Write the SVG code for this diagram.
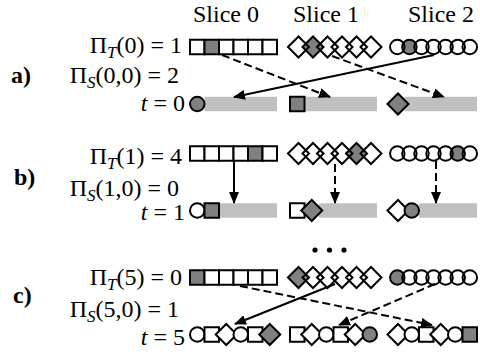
<svg xmlns="http://www.w3.org/2000/svg" width="480" height="356" viewBox="0 0 480 356" font-family="'Liberation Serif', 'Times New Roman', serif" font-size="24">
<style>
.dummy{fill:none}
text{font-family:"Liberation Serif","Times New Roman",serif;font-size:24px;fill:#000}
.hd{font-size:24px}
.b{font-weight:bold}
.sub{font-style:italic;font-size:17px}
.it{font-style:italic}
.o{stroke:#000;stroke-width:2;fill:none}
.w{stroke:#000;stroke-width:2;fill:#fff}
.gf{fill:#808080;stroke:none}
.g{stroke:#000;stroke-width:2;fill:#808080}
.bar{fill:#c0c0c0;stroke:none}
.ln{stroke:#000;stroke-width:2;fill:none}
.dash{stroke-dasharray:8 4}
</style>
<defs>
<marker id="ah" markerUnits="userSpaceOnUse" markerWidth="12" markerHeight="10" refX="11" refY="5" orient="auto" viewBox="0 0 12 10">
<path d="M0,0 L12,5 L0,10 z" fill="#000"/>
</marker>
</defs>
<rect width="480" height="356" fill="#fff"/>

<g id="headers">
<text class="hd" x="193" y="22">Slice 0</text>
<text class="hd" x="293" y="22">Slice 1</text>
<text class="hd" x="408" y="22">Slice 2</text>
</g>

<g id="labels-a">
<text class="b" x="11" y="83">a)</text>
<text x="182" y="53" text-anchor="end">Π<tspan class="sub" dy="5">T</tspan><tspan dy="-5">(0) = 1</tspan></text>
<text x="179" y="83" text-anchor="end">Π<tspan class="sub" dy="5">S</tspan><tspan dy="-5">(0,0) = 2</tspan></text>
<text x="185" y="111" text-anchor="end"><tspan class="it">t</tspan> = 0</text>
</g>
<g id="labels-b">
<text class="b" x="14" y="185">b)</text>
<text x="182" y="164" text-anchor="end">Π<tspan class="sub" dy="5">T</tspan><tspan dy="-5">(1) = 4</tspan></text>
<text x="179" y="196" text-anchor="end">Π<tspan class="sub" dy="5">S</tspan><tspan dy="-5">(1,0) = 0</tspan></text>
<text x="185" y="220" text-anchor="end"><tspan class="it">t</tspan> = 1</text>
</g>
<g id="labels-c">
<text class="b" x="13" y="303">c)</text>
<text x="182" y="285" text-anchor="end">Π<tspan class="sub" dy="5">T</tspan><tspan dy="-5">(5) = 0</tspan></text>
<text x="179" y="317" text-anchor="end">Π<tspan class="sub" dy="5">S</tspan><tspan dy="-5">(5,0) = 1</tspan></text>
<text x="185" y="345" text-anchor="end"><tspan class="it">t</tspan> = 5</text>
</g>

<!-- Row a top -->
<g id="a-s0-queue">
<rect class="w" x="190" y="39.75" width="14.5" height="14.5"/>
<rect class="g" x="204.5" y="39.75" width="14.5" height="14.5"/>
<rect class="w" x="219" y="39.75" width="14.5" height="14.5"/>
<rect class="w" x="233.5" y="39.75" width="14.5" height="14.5"/>
<rect class="w" x="248" y="39.75" width="14.5" height="14.5"/>
<rect class="w" x="262.5" y="39.75" width="14.5" height="14.5"/>
</g>
<g id="a-s1-queue">
<polygon class="gf" points="302.5,47 313,36.5 323.5,47 313,57.5"/>
<polygon class="o" points="288,47 298.5,36.5 309,47 298.5,57.5"/>
<polygon class="o" points="302.5,47 313,36.5 323.5,47 313,57.5"/>
<polygon class="o" points="317,47 327.5,36.5 338,47 327.5,57.5"/>
<polygon class="o" points="331.5,47 342,36.5 352.5,47 342,57.5"/>
<polygon class="o" points="346,47 356.5,36.5 367,47 356.5,57.5"/>
<polygon class="o" points="360.5,47 371,36.5 381.5,47 371,57.5"/>
</g>
<g id="a-s2-queue">
<circle class="gf" cx="409.4" cy="47" r="7.25"/>
<circle class="o" cx="397.3" cy="47" r="7.25"/>
<circle class="o" cx="409.4" cy="47" r="7.25"/>
<circle class="o" cx="421.5" cy="47" r="7.25"/>
<circle class="o" cx="433.5" cy="47" r="7.25"/>
<circle class="o" cx="445.6" cy="47" r="7.25"/>
<circle class="o" cx="457.7" cy="47" r="7.25"/>
<circle class="o" cx="469.8" cy="47" r="7.25"/>
</g>
<!-- Row a bottom -->
<g id="a-s0-out">
<rect class="bar" x="204.5" y="96.75" width="72.5" height="14.5"/>
<circle class="g" cx="197.25" cy="104" r="7.25"/>
</g>
<g id="a-s1-out">
<rect class="bar" x="304.5" y="96.75" width="72.5" height="14.5"/>
<rect class="g" x="290" y="96.75" width="14.5" height="14.5"/>
</g>
<g id="a-s2-out">
<rect class="bar" x="404.5" y="96.75" width="72.5" height="14.5"/>
<polygon class="g" points="387.5,104 398,93.5 408.5,104 398,114.5"/>
</g>

<!-- Row b top -->
<g id="b-s0-queue">
<rect class="w" x="190" y="146.25" width="14.5" height="14.5"/>
<rect class="w" x="204.5" y="146.25" width="14.5" height="14.5"/>
<rect class="w" x="219" y="146.25" width="14.5" height="14.5"/>
<rect class="w" x="233.5" y="146.25" width="14.5" height="14.5"/>
<rect class="g" x="248" y="146.25" width="14.5" height="14.5"/>
<rect class="w" x="262.5" y="146.25" width="14.5" height="14.5"/>
</g>
<g id="b-s1-queue">
<polygon class="gf" points="346,153.5 356.5,143 367,153.5 356.5,164"/>
<polygon class="o" points="288,153.5 298.5,143 309,153.5 298.5,164"/>
<polygon class="o" points="302.5,153.5 313,143 323.5,153.5 313,164"/>
<polygon class="o" points="317,153.5 327.5,143 338,153.5 327.5,164"/>
<polygon class="o" points="331.5,153.5 342,143 352.5,153.5 342,164"/>
<polygon class="o" points="346,153.5 356.5,143 367,153.5 356.5,164"/>
<polygon class="o" points="360.5,153.5 371,143 381.5,153.5 371,164"/>
</g>
<g id="b-s2-queue">
<circle class="gf" cx="457.7" cy="153.5" r="7.25"/>
<circle class="o" cx="397.3" cy="153.5" r="7.25"/>
<circle class="o" cx="409.4" cy="153.5" r="7.25"/>
<circle class="o" cx="421.5" cy="153.5" r="7.25"/>
<circle class="o" cx="433.5" cy="153.5" r="7.25"/>
<circle class="o" cx="445.6" cy="153.5" r="7.25"/>
<circle class="o" cx="457.7" cy="153.5" r="7.25"/>
<circle class="o" cx="469.8" cy="153.5" r="7.25"/>
</g>
<!-- Row b bottom -->
<g id="b-s0-out">
<rect class="bar" x="219" y="203.25" width="58" height="14.5"/>
<circle class="w" cx="197.25" cy="210.5" r="7.25"/>
<rect class="g" x="204.5" y="203.25" width="14.5" height="14.5"/>
</g>
<g id="b-s1-out">
<rect class="bar" x="319" y="203.25" width="58" height="14.5"/>
<rect class="w" x="290" y="203.25" width="14.5" height="14.5"/>
<polygon class="g" points="301.25,210.5 311.75,200 322.25,210.5 311.75,221"/>
</g>
<g id="b-s2-out">
<rect class="bar" x="419" y="203.25" width="58" height="14.5"/>
<polygon class="w" points="387.5,210.5 398,200 408.5,210.5 398,221"/>
<circle class="g" cx="411.75" cy="210.5" r="7.25"/>
</g>

<g id="ellipsis">
<circle cx="315" cy="250" r="2.6" fill="#000"/>
<circle cx="329.5" cy="250" r="2.6" fill="#000"/>
<circle cx="344" cy="250" r="2.6" fill="#000"/>
</g>

<!-- Row c top -->
<g id="c-s0-queue">
<rect class="g" x="190" y="270.25" width="14.5" height="14.5"/>
<rect class="w" x="204.5" y="270.25" width="14.5" height="14.5"/>
<rect class="w" x="219" y="270.25" width="14.5" height="14.5"/>
<rect class="w" x="233.5" y="270.25" width="14.5" height="14.5"/>
<rect class="w" x="248" y="270.25" width="14.5" height="14.5"/>
<rect class="w" x="262.5" y="270.25" width="14.5" height="14.5"/>
</g>
<g id="c-s1-queue">
<polygon class="gf" points="288,277.5 298.5,267 309,277.5 298.5,288"/>
<polygon class="o" points="288,277.5 298.5,267 309,277.5 298.5,288"/>
<polygon class="o" points="302.5,277.5 313,267 323.5,277.5 313,288"/>
<polygon class="o" points="317,277.5 327.5,267 338,277.5 327.5,288"/>
<polygon class="o" points="331.5,277.5 342,267 352.5,277.5 342,288"/>
<polygon class="o" points="346,277.5 356.5,267 367,277.5 356.5,288"/>
<polygon class="o" points="360.5,277.5 371,267 381.5,277.5 371,288"/>
</g>
<g id="c-s2-queue">
<circle class="gf" cx="397.3" cy="277.5" r="7.25"/>
<circle class="o" cx="397.3" cy="277.5" r="7.25"/>
<circle class="o" cx="409.4" cy="277.5" r="7.25"/>
<circle class="o" cx="421.5" cy="277.5" r="7.25"/>
<circle class="o" cx="433.5" cy="277.5" r="7.25"/>
<circle class="o" cx="445.6" cy="277.5" r="7.25"/>
<circle class="o" cx="457.7" cy="277.5" r="7.25"/>
<circle class="o" cx="469.8" cy="277.5" r="7.25"/>
</g>
<!-- Row c bottom -->
<g id="c-s0-out">
<circle class="w" cx="197.25" cy="334.5" r="7.25"/>
<rect class="w" x="204.5" y="327.25" width="14.5" height="14.5"/>
<polygon class="w" points="215.75,334.5 226.25,324 236.75,334.5 226.25,345"/>
<circle class="w" cx="240.75" cy="334.5" r="7.25"/>
<rect class="w" x="248" y="327.25" width="14.5" height="14.5"/>
<polygon class="g" points="259.25,334.5 269.75,324 280.25,334.5 269.75,345"/>
</g>
<g id="c-s1-out">
<rect class="w" x="290" y="327.25" width="14.5" height="14.5"/>
<polygon class="w" points="301.25,334.5 311.75,324 322.25,334.5 311.75,345"/>
<circle class="w" cx="326.25" cy="334.5" r="7.25"/>
<rect class="w" x="333.5" y="327.25" width="14.5" height="14.5"/>
<polygon class="w" points="344.75,334.5 355.25,324 365.75,334.5 355.25,345"/>
<circle class="g" cx="369.75" cy="334.5" r="7.25"/>
</g>
<g id="c-s2-out">
<polygon class="w" points="387.5,334.5 398,324 408.5,334.5 398,345"/>
<circle class="w" cx="411.75" cy="334.5" r="7.25"/>
<rect class="w" x="419" y="327.25" width="14.5" height="14.5"/>
<polygon class="w" points="430.25,334.5 440.75,324 451.25,334.5 440.75,345"/>
<circle class="w" cx="455.25" cy="334.5" r="7.25"/>
<rect class="g" x="462.5" y="327.25" width="14.5" height="14.5"/>
</g>

<g id="connectors">
<line class="ln dash" x1="222" y1="55" x2="330" y2="97" marker-end="url(#ah)"/>
<line class="ln dash" x1="332" y1="56" x2="444" y2="97" marker-end="url(#ah)"/>
<line class="ln" x1="434" y1="55" x2="234" y2="97" marker-end="url(#ah)"/>
<line class="ln" x1="234" y1="161" x2="234" y2="203" marker-end="url(#ah)"/>
<line class="ln dash" x1="335" y1="164" x2="335" y2="203" marker-end="url(#ah)"/>
<line class="ln dash" x1="436" y1="161" x2="436" y2="203" marker-end="url(#ah)"/>
<line class="ln dash" x1="240" y1="286" x2="432" y2="325" marker-end="url(#ah)"/>
<line class="ln dash" x1="435" y1="284" x2="339" y2="325" marker-end="url(#ah)"/>
<line class="ln" x1="335" y1="284" x2="235" y2="324" marker-end="url(#ah)"/>
</g>
</svg>
